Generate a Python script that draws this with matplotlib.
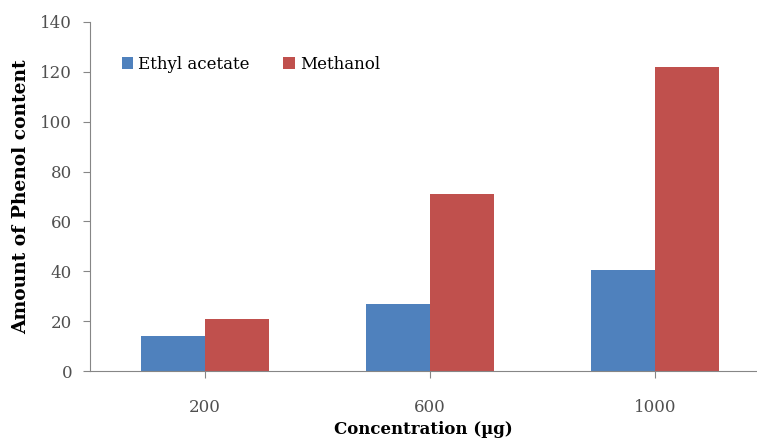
import numpy as np
import matplotlib
matplotlib.use('Agg')
import matplotlib.pyplot as plt

# phenol content per extract at each concentration
concentrations = ['200', '600', '1000']
ethyl_acetate = [14, 27, 40.5]
methanol = [21, 71, 122]

plt.rcParams['font.family'] = ['DejaVu Serif']

fig = plt.figure(figsize=(7.57, 4.45), dpi=100)
ax = fig.add_axes([0.119, 0.166, 0.881, 0.785])

x = np.arange(len(concentrations))
w = 0.285
ax.bar(x - w / 2, ethyl_acetate, w, color='#4F81BD', label='Ethyl acetate')
ax.bar(x + w / 2, methanol, w, color='#C0504D', label='Methanol')

ax.set_ylim(0, 140)
ax.set_yticks(range(0, 141, 20))
ax.set_xlim(-0.511, 2.453)
ax.set_xticks(x)
ax.set_xticklabels(concentrations)

grey = '#868686'
for s in ('top', 'right'):
    ax.spines[s].set_visible(False)
ax.spines['left'].set_color(grey)
ax.spines['bottom'].set_color(grey)
ax.tick_params(axis='y', colors=grey, labelcolor='#505050', labelsize=12, length=5, pad=8)
ax.tick_params(axis='x', colors=grey, labelcolor='#505050', labelsize=12, length=5, pad=15)

ax.set_ylabel('Amount of Phenol content', fontsize=13.4, fontweight='bold', labelpad=7)
ax.set_xlabel('Concentration (µg)', fontsize=12, fontweight='bold', labelpad=4)

ax.legend(loc='upper left', bbox_to_anchor=(0.025, 0.945), ncol=2, frameon=False,
          fontsize=12, handlelength=0.7, handleheight=0.7, handletextpad=0.3,
          columnspacing=2.0)

fig.savefig('out.png', dpi=100)
